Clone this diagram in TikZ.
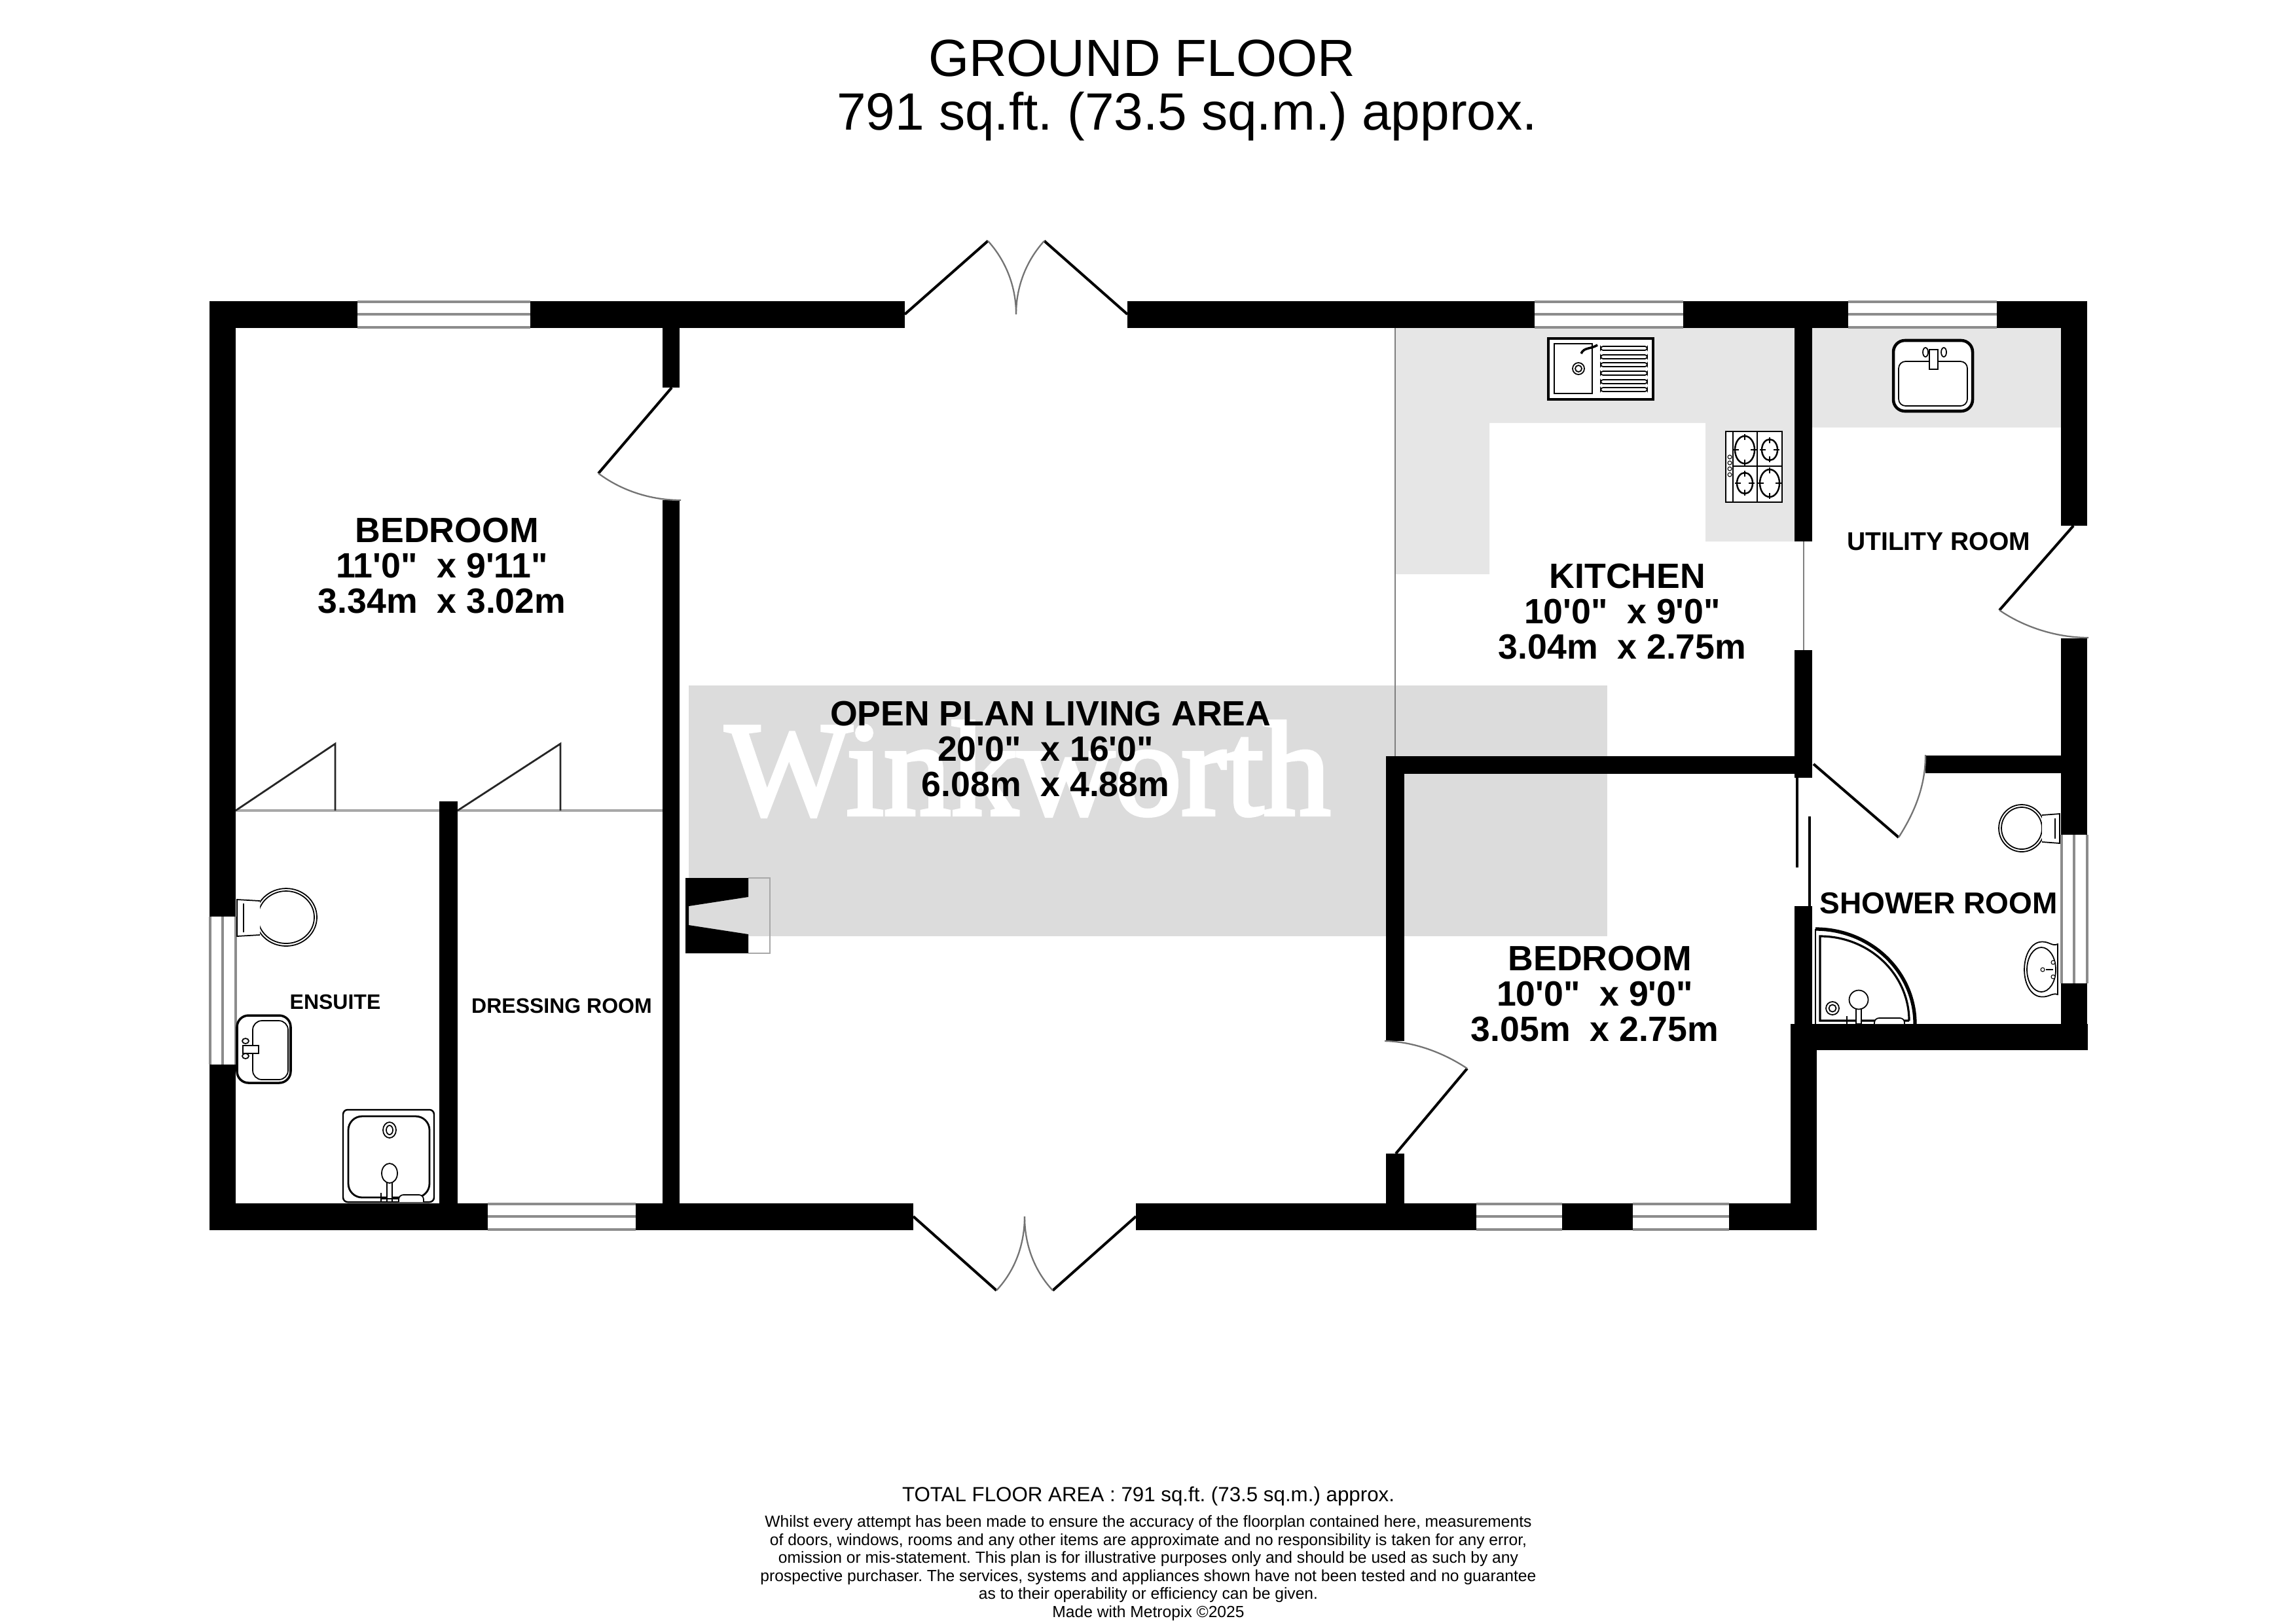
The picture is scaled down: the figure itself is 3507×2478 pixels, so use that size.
\documentclass[tikz,border=0pt]{standalone}
\usepackage{fontspec}
\newfontfamily\planfont{Liberation Sans}
\newfontfamily\markfont[FakeBold=3]{Liberation Serif}
\frenchspacing
\definecolor{floorgrey}{HTML}{DCDCDC}
\definecolor{unitgrey}{HTML}{E6E6E6}
\definecolor{glassgrey}{HTML}{8C8C8C}
\definecolor{thingrey}{HTML}{A8A8A8}
\tikzset{
    wall/.style={fill=black},
    leaf/.style={black, line width=1.15pt},
    swing/.style={color=black!55, line width=0.65pt},
    glass/.style={glassgrey, line width=1.05pt},
    thin line/.style={black!50, line width=0.6pt},
    fitting/.style={draw=black, fill=white, line width=0.5pt},
    bigroom/.style={font=\planfont\bfseries\fontsize{15.25}{15.36}\selectfont, align=center, anchor=south, inner sep=0pt},
    smallroom/.style={font=\planfont\bfseries\fontsize{#1}{#1}\selectfont, anchor=base, inner sep=0pt},
}
\begin{document}
\begin{tikzpicture}[x=0.01cm, y=-0.01cm]
    \useasboundingbox (0,0) rectangle (3507,2478);
    % Floor tints and watermark
    \fill[floorgrey] (1052,1047) rectangle (2455,1430);
    \fill[unitgrey] (2131,500) -- (2741,500) -- (2741,827) -- (2605,827) -- (2605,646) -- (2275,646) -- (2275,877) -- (2131,877) -- cycle;
    \fill[unitgrey] (2768,500) rectangle (3148,653);
    \node[font=\markfont\fontsize{58.2}{58}\selectfont, text=white, anchor=base, inner sep=0pt] (watermark) at (1570,1244) {Winkworth};
    % Thin openings
    \draw[thin line] (2131,500) -- (2131,1155);
    \draw[thin line] (2755,827) -- (2755,993);
    \draw[thingrey, line width=0.9pt] (355,1238) -- (1015,1238);
    % Walls
    \fill[wall] (320,460) rectangle (1382,501);
    \fill[wall] (1722,460) rectangle (3188,501);
    \fill[wall] (320,1838) rectangle (1395,1879);
    \fill[wall] (1735,1838) rectangle (2775,1879);
    \fill[wall] (320,460) rectangle (360,1879);
    \fill[wall] (1012,500) rectangle (1038,592);
    \fill[wall] (1012,764) rectangle (1038,1838);
    \fill[wall] (671,1224) rectangle (699,1838);
    \fill[wall] (2117,1155) rectangle (2145,1590);
    \fill[wall] (2117,1762) rectangle (2145,1838);
    \fill[wall] (2117,1155) rectangle (2768,1182);
    \fill[wall] (2741,500) rectangle (2768,827);
    \fill[wall] (2741,993) rectangle (2768,1188);
    \fill[wall] (2741,1384) rectangle (2768,1564);
    \fill[wall] (2735,1564) rectangle (2775,1879);
    \fill[wall] (2735,1564) rectangle (3189,1604);
    \fill[wall] (3148,460) rectangle (3188,803);
    \fill[wall] (3148,975) rectangle (3188,1275);
    \fill[wall] (3148,1502) rectangle (3188,1604);
    \fill[wall] (2941,1154) rectangle (3148,1181);
    % Windows in the top and bottom walls
    \foreach \a/\b/\c in {546/810/460, 2344/2571/460, 2823/3050/460, 745/971/1838, 2255/2386/1838, 2494/2641/1838}{
        \fill[white] (\a,\c) rectangle (\b,\c+41);
        \draw[glass] (\a,\c+1) -- (\b,\c+1);
        \draw[glass] (\a,\c+20) -- (\b,\c+20);
        \draw[glass] (\a,\c+40) -- (\b,\c+40);
    }
    % Windows in the side walls
    \foreach \a/\b/\c in {1400/1626/320, 1275/1502/3148}{
        \fill[white] (\c,\a) rectangle (\c+41,\b);
        \draw[glass] (\c+1,\a) -- (\c+1,\b);
        \draw[glass] (\c+20,\a) -- (\c+20,\b);
        \draw[glass] (\c+40,\a) -- (\c+40,\b);
    }
    % French doors, top
    \draw[leaf] (1382,480) -- (1509,368);
    \draw[swing] (1509,368) .. controls (1538,400) and (1552,440) .. (1552,480);
    \draw[leaf] (1722,480) -- (1595,368);
    \draw[swing] (1595,368) .. controls (1566,400) and (1552,440) .. (1552,480);
    % French doors, bottom
    \draw[leaf] (1395,1858) -- (1522,1971);
    \draw[swing] (1522,1971) .. controls (1551,1940) and (1565,1900) .. (1565,1858);
    \draw[leaf] (1735,1858) -- (1608,1971);
    \draw[swing] (1608,1971) .. controls (1579,1940) and (1565,1900) .. (1565,1858);
    % Single doors
    \draw[leaf] (1026,592) -- (914,723);
    \draw[swing] (914,723) .. controls (950,750) and (995,764) .. (1040,764);
    \draw[leaf] (3167,803) -- (3054,932);
    \draw[swing] (3054,932) .. controls (3090,957) and (3140,974) .. (3190,974);
    \draw[leaf] (2132,1762) -- (2241,1632);
    \draw[swing] (2115,1590) .. controls (2160,1591) and (2205,1608) .. (2241,1632);
    \draw[leaf] (2770,1167) -- (2900,1279);
    \draw[swing] (2900,1279) .. controls (2925,1240) and (2941,1200) .. (2941,1153);
    % Sliding door
    \draw[black, line width=1pt] (2745,1188) -- (2745,1325);
    \draw[black, line width=1pt] (2764,1247) -- (2764,1384);
    % Wardrobe doors
    \draw[black!85, line width=0.8pt] (360,1238) -- (512,1136) -- (512,1238);
    \draw[black!85, line width=0.8pt] (699,1238) -- (856,1136) -- (856,1238);
    % Fireplace
    \draw[thingrey, line width=0.6pt] (1143,1341) -- (1176,1341) -- (1176,1456) -- (1143,1456);
    \fill[black] (1047,1341) -- (1143,1341) -- (1143,1370) -- (1052,1384) -- (1052,1413) -- (1143,1427) -- (1143,1456) -- (1047,1456) -- cycle;
    % Ensuite toilet
    \filldraw[fitting] (437,1401) ellipse [x radius=47, y radius=44];
    \draw[fitting] (437,1401) ellipse [x radius=43, y radius=40];
    \filldraw[fitting] (397,1376) -- (362,1374) -- (362,1430) -- (397,1428);
    \draw[fitting] (372,1380) -- (372,1424);
    % Ensuite basin
    \filldraw[fitting, line width=1pt, rounded corners=5pt] (362,1551) rectangle (444,1654);
    \draw[fitting, rounded corners=4pt] (386,1559) rectangle (440,1649);
    \draw[fitting] (371,1597) rectangle (395,1609);
    \draw[fitting] (375,1590) ellipse [x radius=5, y radius=4];
    \draw[fitting] (375,1613) ellipse [x radius=5, y radius=4];
    % Ensuite shower
    \filldraw[fitting, line width=0.7pt, rounded corners=2pt] (524,1695) rectangle (663,1836);
    \draw[fitting, line width=0.8pt, rounded corners=6pt] (532,1705) rectangle (656,1829);
    \draw[fitting] (595,1726) ellipse [x radius=10, y radius=12];
    \draw[fitting] (595,1726) ellipse [x radius=5, y radius=7];
    \draw[fitting] (591,1806) rectangle (599,1836);
    \draw[fitting] (595,1792) ellipse [x radius=12, y radius=15];
    \draw[fitting, rounded corners=2pt] (609,1836) -- (609,1825) -- (647,1825) -- (647,1836);
    \draw[fitting] (582,1822) -- (582,1836);
    \draw[fitting] (582,1831) -- (609,1831);
    % Kitchen sink
    \filldraw[fitting, line width=1pt] (2365,517) rectangle (2525,610);
    \draw[fitting, line width=0.8pt] (2374,525) rectangle (2432,601);
    \draw[fitting] (2411,563) circle (9);
    \draw[fitting] (2411,563) circle (5);
    \draw[fitting, line width=1pt] (2415,540) .. controls (2420,530) and (2428,534) .. (2440,527);
    \foreach \y in {532,545,557,570,583,595}{
        \draw[fitting, rounded corners=1pt] (2445,\y-3) rectangle (2516,\y+3);
    }
    % Kitchen hob
    \filldraw[fitting, line width=0.7pt] (2636,659) rectangle (2722,767);
    \draw[fitting] (2647,659) -- (2647,767);
    \draw[fitting] (2684,659) -- (2684,767);
    \draw[fitting] (2647,712) -- (2722,712);
    \foreach \x/\y/\r/\s in {2665/687/15/21, 2703/687/12/16, 2665/738/12/16, 2703/738/15/21}{
        \draw[fitting, line width=0.7pt] (\x,\y) ellipse [x radius=\r, y radius=\s];
        \draw[fitting] (\x-\r-3,\y) -- (\x-\r+6,\y);
        \draw[fitting] (\x+\r-6,\y) -- (\x+\r+3,\y);
        \draw[fitting] (\x,\y-\s-3) -- (\x,\y-\s+6);
        \draw[fitting] (\x,\y+\s-6) -- (\x,\y+\s+3);
    }
    \foreach \y in {698,707,716,725}{
        \draw[fitting, line width=0.3pt] (2642,\y) circle (3);
    }
    % Utility sink
    \filldraw[fitting, line width=1.3pt, rounded corners=5pt] (2892,520) rectangle (3013,628);
    \draw[fitting, rounded corners=3pt] (2900,552) rectangle (3005,620);
    \draw[fitting] (2941,538) ellipse [x radius=4, y radius=7];
    \draw[fitting] (2969,538) ellipse [x radius=4, y radius=7];
    \draw[fitting] (2947,534) rectangle (2960,564);
    % Shower room toilet
    \filldraw[fitting] (3088,1265) ellipse [x radius=35, y radius=36];
    \draw[fitting] (3088,1265) ellipse [x radius=31, y radius=32];
    \filldraw[fitting] (3119,1245) -- (3146,1243) -- (3146,1288) -- (3119,1286);
    \draw[fitting] (3139,1250) -- (3139,1281);
    % Shower room basin
    \filldraw[fitting] (3143,1442) .. controls (3135,1446) and (3130,1438) .. (3119,1438.5) .. controls (3103,1438.5) and (3092,1458) .. (3092,1481) .. controls (3092,1504) and (3103,1522.5) .. (3119,1522.5) .. controls (3130,1523) and (3135,1516) .. (3143,1519) -- cycle;
    \draw[fitting] (3118,1481) ellipse [x radius=22, y radius=34];
    \draw[fitting, line width=0.3pt] (3120,1481) circle (3);
    \draw[fitting, line width=0.3pt] (3136,1470) circle (3);
    \draw[fitting, line width=0.3pt] (3136,1492) circle (3);
    \draw[fitting] (3125,1481) -- (3136,1481);
    % Corner shower
    \filldraw[fitting, line width=0.4pt] (2773,1564) -- (2773,1419);
    \filldraw[fill=white, draw=black, line width=1.5pt] (2773,1419) .. controls (2857,1419) and (2925,1484) .. (2925,1564);
    \draw[fitting, line width=0.9pt] (2916,1559) -- (2780,1559) -- (2780,1430) .. controls (2855,1430) and (2916,1488) .. (2916,1559);
    \draw[fitting] (2799,1540) circle (10);
    \draw[fitting] (2799,1540) circle (5.5);
    \draw[fitting] (2835,1541) rectangle (2843,1564);
    \draw[fitting] (2839,1527) circle (14.5);
    \draw[fitting, rounded corners=2pt] (2863,1564) -- (2863,1555) -- (2909,1555) -- (2909,1564);
    \draw[fitting] (2821,1552) -- (2821,1564);
    % Room names
    \node[bigroom] (bedroomleft) at (675,938) {\kern4.4pt BEDROOM\\11'0"~~x 9'11"\\3.34m~~x 3.02m};
    \node[bigroom] (bedroomright) at (2436,1592) {\kern4.4pt BEDROOM\\10'0"~~x 9'0"\\3.05m~~x 2.75m};
    \node[bigroom] (kitchen) at (2478,1008) {\kern4.4pt KITCHEN\\10'0"~~x 9'0"\\3.04m~~x 2.75m};
    \node[bigroom] (livingarea) at (1597,1218) {\kern4.4pt OPEN PLAN LIVING AREA\\20'0"~~x 16'0"\\6.08m~~x 4.88m};
    \node[smallroom=11.1] (utility) at (2961,840) {UTILITY ROOM};
    \node[smallroom=13.1] (shower) at (2961,1395) {SHOWER ROOM};
    \node[smallroom=9.1] (ensuite) at (512,1541) {ENSUITE};
    \node[smallroom=9.1] (dressing) at (858,1547) {DRESSING ROOM};
    % Heading and small print
    \node[font=\planfont\fontsize{22.7}{24}\selectfont, anchor=base, inner sep=0pt] (title) at (1744,116) {GROUND FLOOR};
    \node[font=\planfont\fontsize{22.8}{24}\selectfont, anchor=base, inner sep=0pt] (area) at (1813,198) {791 sq.ft. (73.5 sq.m.) approx.};
    \node[font=\planfont\fontsize{8.9}{10}\selectfont, anchor=base, inner sep=0pt] (total) at (1754,2293) {TOTAL FLOOR AREA : 791 sq.ft. (73.5 sq.m.) approx.};
    \node[font=\planfont\fontsize{7}{7.82}\selectfont, align=center, anchor=south, inner sep=0pt] (disclaimer) at (1754,2476) {Whilst every attempt has been made to ensure the accuracy of the floorplan contained here, measurements\\of doors, windows, rooms and any other items are approximate and no responsibility is taken for any error,\\omission or mis-statement. This plan is for illustrative purposes only and should be used as such by any\\prospective purchaser. The services, systems and appliances shown have not been tested and no guarantee\\as to their operability or efficiency can be given.\\Made with Metropix ©2025};
\end{tikzpicture}
\end{document}
